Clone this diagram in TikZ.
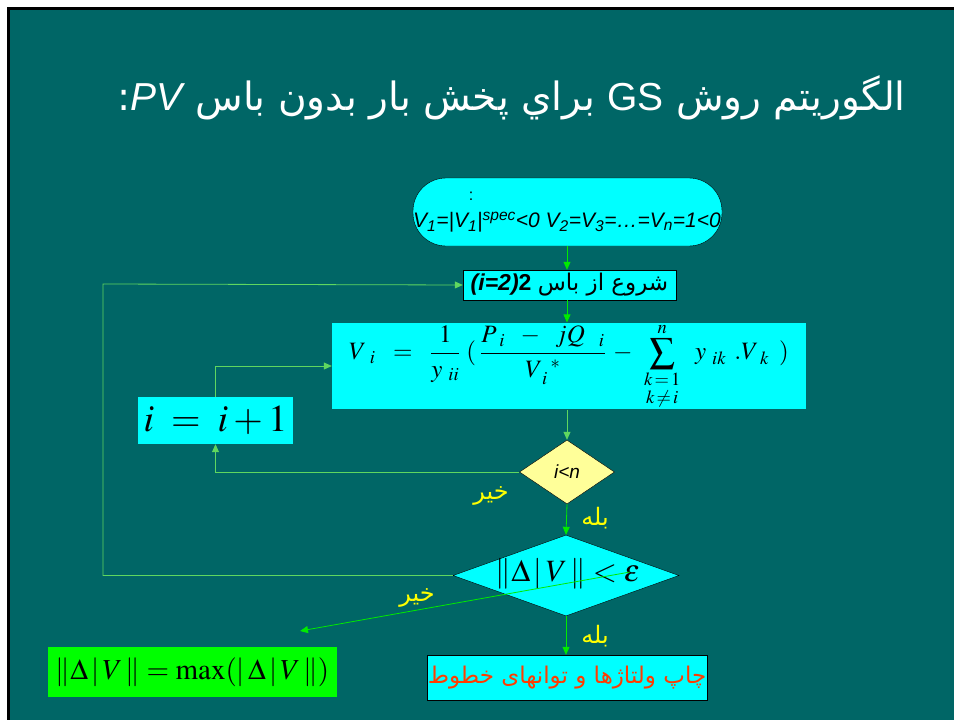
\documentclass[tikz,border=0pt]{standalone}
\usepackage{amsmath}
\usepackage{mathptmx}
\usepackage[no-math]{fontspec}
\setmainfont{Liberation Sans}
\newfontfamily\latinfont{Liberation Sans}
\newfontfamily\arabicfont[Script=Arabic]{DejaVu Sans}
\TeXXeTstate=1
\usetikzlibrary{positioning,shapes.geometric,arrows.meta}
\definecolor{SlideTeal}{RGB}{0,102,102}
\definecolor{BoxCyan}{RGB}{0,255,255}
\definecolor{CondYellow}{RGB}{255,255,153}
\definecolor{FlowGreen}{RGB}{0,235,0}
\definecolor{LoopGreen}{RGB}{95,215,95}
\definecolor{LabelYellow}{RGB}{255,255,0}
\definecolor{PrintRed}{RGB}{255,60,0}
\definecolor{ResultGreen}{RGB}{0,255,0}

\begin{document}
\begin{tikzpicture} [x=1pt,y=1pt, box/.style={draw=black,fill=BoxCyan,inner sep=0pt}, flat/.style={fill=BoxCyan,inner sep=0pt}, cond/.style={diamond,draw=black,inner sep=0pt}, flow/.style={FlowGreen,line width=0.8pt,-{Triangle[length=8pt,width=7pt]}}, loop/.style={LoopGreen,line width=0.8pt,-{Triangle[length=8pt,width=7pt]}}, answer/.style={text=LabelYellow,font=\arabicfont\fontsize{24}{27}\selectfont}]

\useasboundingbox (0,0) rectangle (954,-720);
% the slide
\fill[white] (0,0) rectangle (954,-720);
\fill[SlideTeal] (8.5,-8.5) rectangle (954,-720);
\draw[black,line width=3pt] (8.5,-720) -- (8.5,-8.5) -- (954,-8.5);

\node[anchor=east,text=white,inner sep=0pt,font=\fontsize{39}{45}\selectfont] (title) at (906,-98) {\arabicfont\beginR الگوريتم روش {\latinfont GS} براي پخش بار بدون باس \beginL{\latinfont\itshape PV}\endL:\endR};

% start and first bus
\node[box,rounded corners=33pt,minimum width=309pt,minimum height=68pt] (init) at (567.5,-212) {};
\node[font=\fontsize{16}{18}\selectfont] (initcolon) at (471,-196) {:};
\node[font=\fontsize{21}{24}\selectfont\itshape,inner sep=0pt] (initval) at (567,-222) {V\textsubscript{1}=|V\textsubscript{1}|\textsuperscript{spec}<0 V\textsubscript{2}=V\textsubscript{3}=\dots=V\textsubscript{n}=1<0};
\node[box,minimum width=213pt,minimum height=30pt,font=\fontsize{23}{26}\selectfont] (start) at (569.5,-285) {\textbf{\textit{(i=2)}2} {\arabicfont\beginR شروع از باس\endR}};

% Gauss-Seidel update
\node[flat,minimum width=474pt,minimum height=86pt,font=\fontsize{25}{29}\selectfont] (update) at (569,-366) {$\displaystyle V_{\hspace{8pt}i}\hspace{12pt}=\hspace{12pt}\frac{1}{y_{\hspace{6pt}ii}}\hspace{6pt}(\hspace{4pt}\frac{P_{\hspace{6pt}i}\hspace{12pt}-\hspace{12pt}jQ_{\hspace{14pt}i}}{V_{\hspace{4pt}i}^{\hspace{8pt}*}}\hspace{4pt}-\hspace{8pt}\sum_{\substack{k\,=\,1\\[2pt]k\,\neq\,i}}^{n}\hspace{12pt}y_{\hspace{6pt}ik}\hspace{8pt}.V_{\hspace{6pt}k}\hspace{10pt})$};
\node[flat,minimum width=155pt,minimum height=47pt,font=\fontsize{38}{42}\selectfont] (incr) at (215.5,-420.5) {$i\;=\;i+1$};

% checks
\node[cond,fill=CondYellow,minimum width=95pt,minimum height=64pt] (lessn) at (567,-472) {};
\node[font=\fontsize{19}{22}\selectfont\itshape] (lessntext) at (lessn) {i<n};
\node[cond,fill=BoxCyan,minimum width=226pt,minimum height=81pt] (conv) at (566,-575.5) {};
\node[font=\fontsize{31}{34}\selectfont] (convtext) at (568,-574) {$\|\Delta\,|\,V\,\|<\varepsilon$};

% results
\node[box,minimum width=280pt,minimum height=45pt,text=PrintRed,font=\fontsize{23}{26}\selectfont] (print) at (567,-677.5) {\arabicfont\beginR چاپ ولتاژها و توانهاى خطوط\endR};
\node[fill=ResultGreen,inner sep=0pt,minimum width=289pt,minimum height=50pt,font=\fontsize{29}{32}\selectfont] (maxdv) at (192.5,-672) {$\|\Delta\,|\,V\,\|=\max(|\,\Delta\,|\,V\,\|)$};

% connectors
\draw[flow] (init.south -| initval) -- (start.north -| initval);
\draw[flow] (start.south -| initval) -- (update.north -| initval);
\draw[loop] (update.south -| lessn) -- (lessn.north);
\draw[loop] (lessn.west) -| (incr.south);
\draw[loop] (incr.north) |- (update.west);
\draw[flow] (lessn.south) -- (conv.north);
\draw[loop] (conv.west) -| (103,-284) -- (start.west);
\draw[flow] (conv.south) -- (print.north -| conv.south);
\coordinate (maxin) at (300,-631);
\draw[flow] (630,-572) -- (maxin);

% yes / no labels
\node[answer] (no1) at (491,-496) {\beginR خير\endR};
\node[answer] (yes1) at (595,-518) {\beginR بله\endR};
\node[answer] (no2) at (417,-598) {\beginR خير\endR};
\node[answer] (yes2) at (595,-636) {\beginR بله\endR};

\end{tikzpicture}
\end{document}
